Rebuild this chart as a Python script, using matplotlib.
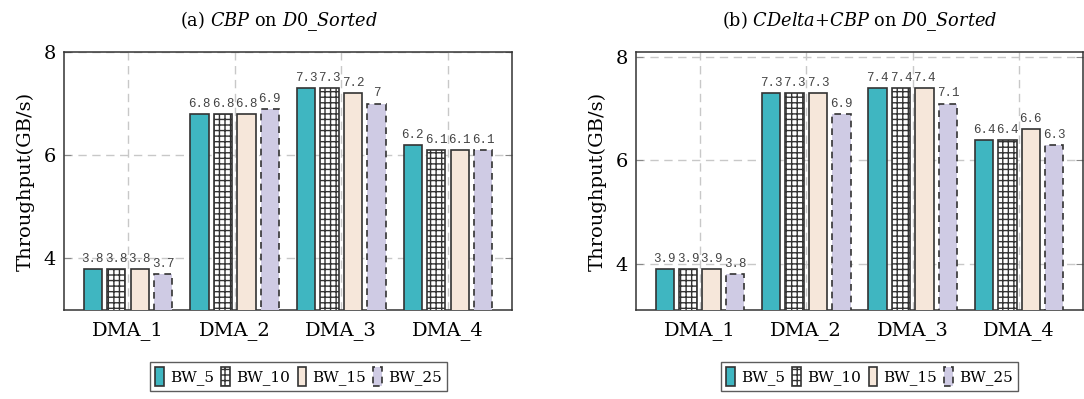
import matplotlib
matplotlib.use("Agg")
import matplotlib.pyplot as plt
import numpy as np

# Data
groups = ["DMA_1", "DMA_2", "DMA_3", "DMA_4"]
series = ["BW_5", "BW_10", "BW_15", "BW_25"]

cbp_bw5 = [3.8, 6.8, 7.3, 6.2]
cbp_bw10 = [3.8, 6.8, 7.3, 6.1]
cbp_bw15 = [3.8, 6.8, 7.2, 6.1]
cbp_bw25 = [3.7, 6.9, 7.0, 6.1]

cdelta_bw5 = [3.9, 7.3, 7.4, 6.4]
cdelta_bw10 = [3.9, 7.3, 7.4, 6.4]
cdelta_bw15 = [3.9, 7.3, 7.4, 6.6]
cdelta_bw25 = [3.8, 6.9, 7.1, 6.3]

yticks = [4, 6, 8]

plt.rcParams["font.family"] = ["DejaVu Serif"]
plt.rcParams["mathtext.fontset"] = "custom"
plt.rcParams["mathtext.rm"] = "DejaVu Serif"
plt.rcParams["mathtext.it"] = "DejaVu Serif:italic"
plt.rcParams["hatch.linewidth"] = 1.0
plt.rcParams["hatch.color"] = "#222222"

EDGE = "#333333"
styles = [
    dict(facecolor="#3fb6c1", edgecolor=EDGE, linewidth=1.2),
    dict(facecolor="white", edgecolor=EDGE, hatch="+++", linewidth=1.2),
    dict(facecolor="#f6e7da", edgecolor=EDGE, linewidth=1.2),
    dict(facecolor="#cfcbe4", edgecolor=EDGE, linestyle=(0, (4, 3)), linewidth=1.2),
]

fig = plt.figure(figsize=(10.84, 3.99), dpi=100)
W, H = 1084, 399


def add_panel(rect, data, title, ylim, legend_cx, title_x):
    ax = fig.add_axes(rect)
    x = np.arange(len(groups))
    pitch = 0.22
    width = 0.173
    bars_all = []
    for i, (vals, st) in enumerate(zip(data, styles)):
        off = (i - 1.5) * pitch
        bars = ax.bar(x + off, vals, width, label=series[i], zorder=3, **st)
        bars_all.append(bars)
        for xi, v in zip(x + off, vals):
            ax.annotate(f"{v:g}", (xi, v), xytext=(0, 3), textcoords="offset points",
                        ha="center", va="bottom", fontsize=9,
                        family="Liberation Mono", color="#444444", zorder=4)
    ax.set_xlim(-0.6, 3.6)
    ax.set_ylim(*ylim)
    ax.set_xticks(x)
    ax.set_xticklabels(groups, fontsize=14)
    ax.set_yticks(yticks)
    ax.set_yticklabels([str(t) for t in yticks], fontsize=14)
    ax.tick_params(axis="x", length=0, pad=8)
    ax.tick_params(axis="y", direction="in", length=5, color="#888888",
                   left=True, right=True, pad=6)
    ax.grid(True, linestyle=(0, (6, 4)), color="#c8c8c8", linewidth=1.0)
    ax.set_axisbelow(True)
    for s in ax.spines.values():
        s.set_color(EDGE)
        s.set_linewidth(1.1)
    ax.set_ylabel("Throughput(GB/s)", fontsize=14, labelpad=6)
    ax.set_title(title, fontsize=12.8, pad=19, x=title_x)
    leg = fig.legend(handles=bars_all, labels=series, loc="center",
                     bbox_to_anchor=(legend_cx / W, 1 - 376.5 / H), ncol=4,
                     fontsize=11, frameon=True, fancybox=False,
                     handlelength=0.55, handleheight=1.5, handletextpad=0.4,
                     columnspacing=0.5, borderpad=0.35, borderaxespad=0)
    leg.get_frame().set_edgecolor(EDGE)
    leg.get_frame().set_linewidth(1.0)
    return ax


add_panel([64 / W, 89 / H, 448 / W, 258 / H],
          [cbp_bw5, cbp_bw10, cbp_bw15, cbp_bw25],
          r"(a) $\mathit{CBP}$ on $\mathit{D0\_Sorted}$", (3.0, 8.0), 298.5, 0.48)
add_panel([636 / W, 89 / H, 447 / W, 258 / H],
          [cdelta_bw5, cdelta_bw10, cdelta_bw15, cdelta_bw25],
          r"(b) $\mathit{CDelta{+}CBP}$ on $\mathit{D0\_Sorted}$", (3.1, 8.1), 869.5, 0.5)

fig.savefig("out.png", dpi=100)
